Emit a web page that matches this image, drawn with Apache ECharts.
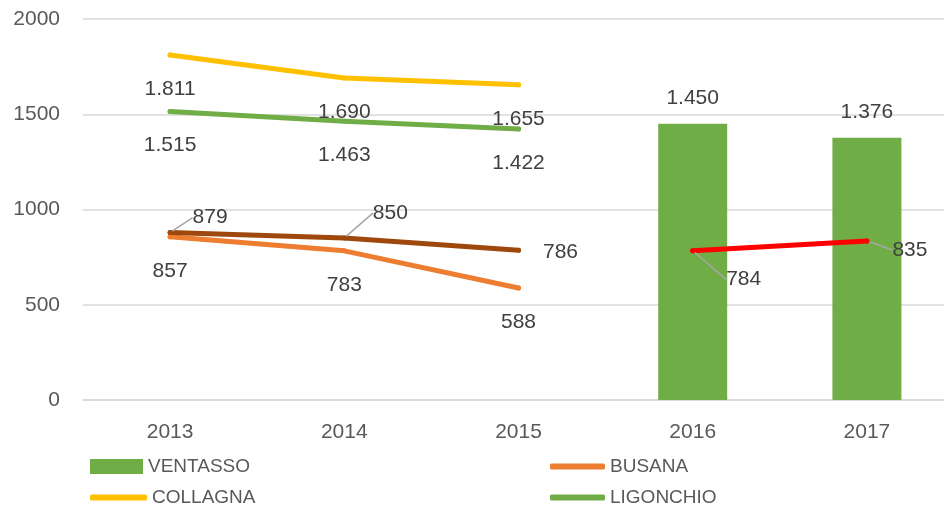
<!DOCTYPE html>
<html>
<head>
<meta charset="utf-8">
<script src="https://cdn.jsdelivr.net/npm/echarts@6/dist/echarts.min.js"></script>
<style>
  html, body { margin: 0; padding: 0; background: #fff; overflow: hidden; }
  #chart { width: 960px; height: 513px; }
</style>
</head>
<body>
<div id="chart"></div>
<script>
// dati
const anni = ['2013', '2014', '2015', '2016', '2017'];
const ventasso = [null, null, null, 1450, 1376];
const busana = [857, 783, 588, null, null];
const collagna = [1811, 1690, 1655, null, null];
const ligonchio = [1515, 1463, 1422, null, null];
const ramiseto = [879, 850, 786, null, null];
const ventassoLinea = [null, null, null, 784, 835];

// posizione etichette (spostamenti in px)
const offRamiseto = [[40, -15], [46, -25], [42, 2]];
const offVentassoLinea = [null, null, null, [51, 29], [43, 9]];

const FONT = '"Liberation Sans", Arial, sans-serif';

const formatta = (v) => {
  if (v == null) return '';
  if (v >= 1000) {
    return Math.floor(v / 1000) + '.' + String(v % 1000).padStart(3, '0');
  }
  return String(v);
};

const etichetta = {
  show: true,
  fontFamily: FONT,
  fontSize: 21,
  color: '#404040',
  formatter: (p) => formatta(p.value)
};

const guida = { show: true, lineStyle: { color: '#a6a6a6', width: 1.5 } };

const linea = (nome, dati, colore, extra) => Object.assign({
  name: nome,
  type: 'line',
  data: dati,
  symbol: 'circle',
  symbolSize: 5,
  showSymbol: true,
  itemStyle: { color: colore },
  lineStyle: { color: colore, width: 5, cap: 'round', join: 'round' },
  label: Object.assign({}, etichetta, { position: 'bottom', distance: 21 }),
  z: 3
}, extra || {});

const chart = echarts.init(document.getElementById('chart'));

const legenda = (nome, left, top, icona, w, h) => ({
  data: [nome],
  left: left,
  top: top,
  icon: icona,
  itemWidth: w,
  itemHeight: h,
  itemGap: 5,
  padding: 0,
  textStyle: { fontFamily: FONT, fontSize: 19, color: '#595959' }
});

chart.setOption({
  backgroundColor: '#ffffff',
  animation: false,
  grid: { left: 83, top: 19, width: 871, height: 381 },
  legend: [
    legenda('VENTASSO', 90, 457, 'rect', 53, 15),
    legenda('BUSANA', 550, 457, 'roundRect', 55, 6),
    legenda('COLLAGNA', 90, 488, 'roundRect', 57, 6),
    legenda('LIGONCHIO', 550, 488, 'roundRect', 55, 6)
  ],
  xAxis: {
    type: 'category',
    data: anni,
    axisLine: { show: true, lineStyle: { color: '#d9d9d9', width: 1.5 } },
    axisTick: { show: false },
    axisLabel: { fontFamily: FONT, fontSize: 21, color: '#595959', margin: 22 }
  },
  yAxis: {
    type: 'value',
    min: 0,
    max: 2000,
    interval: 500,
    axisLine: { show: false },
    axisTick: { show: false },
    axisLabel: {
      fontFamily: FONT, fontSize: 21, color: '#595959', margin: 23,
      formatter: (v) => String(v)
    },
    splitLine: { lineStyle: { color: '#d9d9d9', width: 1.5 } }
  },
  series: [
    {
      name: 'VENTASSO',
      type: 'bar',
      data: ventasso,
      barWidth: 69,
      itemStyle: { color: '#70ad47' },
      label: Object.assign({}, etichetta, { position: 'top', distance: 15 }),
      z: 2
    },
    linea('BUSANA', busana, '#ed7d31'),
    linea('COLLAGNA', collagna, '#ffc000'),
    linea('LIGONCHIO', ligonchio, '#70ad47'),
    linea('RAMISETO', ramiseto.map((v, i) => (i === 2 ? { value: v, labelLine: { show: false } } : v)), '#9e480e', {
      label: Object.assign({}, etichetta, { position: 'inside' }),
      labelLine: guida,
      labelLayout: (p) => {
        const o = offRamiseto[p.dataIndex];
        return o ? { dx: o[0], dy: o[1] } : {};
      }
    }),
    linea('VENTASSO ', ventassoLinea, '#ff0000', {
      label: Object.assign({}, etichetta, { position: 'inside' }),
      labelLine: guida,
      labelLayout: (p) => {
        const o = offVentassoLinea[p.dataIndex];
        return o ? { dx: o[0], dy: o[1] } : {};
      }
    })
  ]
});
</script>
</body>
</html>
